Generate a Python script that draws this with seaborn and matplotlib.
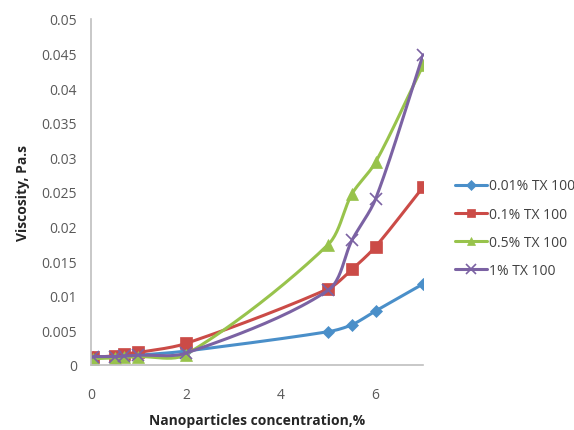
import numpy as np
import pandas as pd
import seaborn as sns
import matplotlib.pyplot as plt

# data
conc = [0.05, 0.5, 0.7, 1, 2, 5, 5.5, 6, 7]
tx_001 = [0.0012, 0.0012, 0.0013, 0.0014, 0.0020, 0.0048, 0.0058, 0.0078, 0.0117]
tx_01 = [0.0011, 0.0013, 0.0016, 0.0018, 0.0031, 0.0110, 0.0138, 0.0171, 0.0257]
tx_05 = [0.0009, 0.0010, 0.0011, 0.0012, 0.0015, 0.0174, 0.0247, 0.0293, 0.0433]
tx_1 = [0.0012, 0.0012, 0.0013, 0.0014, 0.0017, 0.0108, 0.0180, 0.0240, 0.0448]
series_names = ["0.01% TX 100", "0.1% TX 100", "0.5% TX 100", "1% TX 100"]

colors = ["#4a8fc9", "#cb4b47", "#98c34c", "#7b62a3"]
markers = ["D", "s", "^", "x"]
msizes = [6, 8, 8, 9]


def smooth(x, y, n=25, sx=1 / 7, sy=1 / 0.05):
    """Bezier smoothing (like Excel smoothed lines), tangents scaled per segment"""
    P = np.column_stack([np.asarray(x, float) * sx, np.asarray(y, float) * sy])
    k = len(P)
    tang = np.zeros_like(P)
    for i in range(k):
        d = P[min(i + 1, k - 1)] - P[max(i - 1, 0)]
        tang[i] = d / np.linalg.norm(d)
    t = np.linspace(0, 1, n)[:, None]
    pts = []
    for i in range(k - 1):
        p1, p2 = P[i], P[i + 1]
        L = np.linalg.norm(p2 - p1) * 0.3
        c1 = p1 + tang[i] * L
        c2 = p2 - tang[i + 1] * L
        pts.append((1 - t) ** 3 * p1 + 3 * (1 - t) ** 2 * t * c1
                   + 3 * (1 - t) * t ** 2 * c2 + t ** 3 * p2)
    pts = np.vstack(pts)
    return pts[:, 0] / sx, pts[:, 1] / sy


sns.set_theme(style="white")
plt.rcParams['font.family'] = ['Open Sans', 'DejaVu Sans']

fig = plt.figure(figsize=(5.74, 4.31), dpi=100)
ax = fig.add_axes([0.1585, 0.151, 0.5785, 0.8026])

all_y = [tx_001, tx_01, tx_05, tx_1]
for name, yv, c, m, ms in zip(series_names, all_y, colors, markers, msizes):
    sx, sy = smooth(conc, yv)
    sns.lineplot(x=sx, y=sy, color=c, lw=2.2, ax=ax, sort=False)
    sns.lineplot(x=conc, y=yv, color=c, marker=m, markersize=ms, lw=0,
                 markeredgecolor=c, markeredgewidth=1.2 if m == "x" else 0.5,
                 ax=ax, label=name)

ax.set_xlim(0, 7)
ax.set_ylim(0, 0.05)
ax.set_xticks([0, 2, 4, 6])
ax.set_yticks(np.arange(0, 0.0501, 0.005))
ax.set_yticklabels(["0", "0.005", "0.01", "0.015", "0.02", "0.025", "0.03",
                    "0.035", "0.04", "0.045", "0.05"])
ax.tick_params(colors="#595959", labelsize=10, length=0)
ax.tick_params(axis="x", pad=16)
ax.tick_params(axis="y", pad=10)
for s in ["top", "right"]:
    ax.spines[s].set_visible(False)
for s in ["left", "bottom"]:
    ax.spines[s].set_color("#bfbfbf")
    ax.spines[s].set_linewidth(1.2)

ax.set_xlabel("Nanoparticles concentration,%", fontsize=10, fontweight="bold",
              color="#262626")
ax.xaxis.set_label_coords(0.5, -0.14)
ax.set_ylabel("Viscosity, Pa.s", fontsize=10, fontweight="bold",
              color="#262626", labelpad=8)

leg = ax.legend(loc="center left", bbox_to_anchor=(1.06, 0.395), frameon=False,
                fontsize=10, handlelength=2.3, labelspacing=0.95, handletextpad=0.1)
for h, c, ms in zip(leg.legend_handles, colors, [5, 6, 6, 7]):
    h.set_linestyle("-")
    h.set_linewidth(2.2)
    h.set_color(c)
    h.set_markersize(ms)
for t in leg.get_texts():
    t.set_color("#404040")

fig.savefig("out.png", dpi=100)
